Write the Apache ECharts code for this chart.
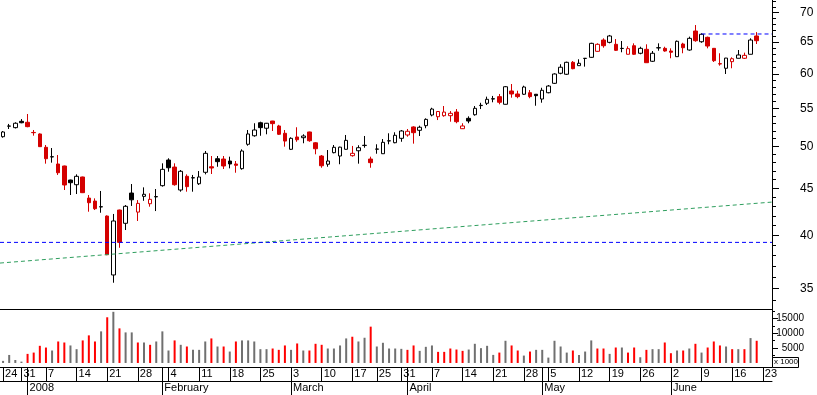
<!DOCTYPE html>
<html><head><meta charset="utf-8">
<script src="https://cdn.jsdelivr.net/npm/echarts@6/dist/echarts.min.js"></script>
<style>html,body{margin:0;padding:0;background:#fff;}#c{width:817px;height:395px;}</style>
</head><body><div id="c"></div>
<script>
// ---- trading days (last two are empty future slots) ----
const dates = [
'2007-12-24','2007-12-27','2007-12-28','2007-12-31',
'2008-01-02','2008-01-03','2008-01-04','2008-01-07','2008-01-08','2008-01-09','2008-01-10','2008-01-11',
'2008-01-14','2008-01-15','2008-01-16','2008-01-17','2008-01-18','2008-01-21','2008-01-22','2008-01-23',
'2008-01-24','2008-01-25','2008-01-28','2008-01-29','2008-01-30','2008-01-31',
'2008-02-01','2008-02-04','2008-02-05','2008-02-06','2008-02-07','2008-02-08','2008-02-11','2008-02-12',
'2008-02-13','2008-02-14','2008-02-15','2008-02-18','2008-02-19','2008-02-20','2008-02-21','2008-02-22',
'2008-02-25','2008-02-26','2008-02-27','2008-02-28','2008-02-29',
'2008-03-03','2008-03-04','2008-03-05','2008-03-06','2008-03-07','2008-03-10','2008-03-11','2008-03-12',
'2008-03-13','2008-03-14','2008-03-17','2008-03-18','2008-03-19','2008-03-20','2008-03-25','2008-03-26',
'2008-03-27','2008-03-28','2008-03-31',
'2008-04-01','2008-04-02','2008-04-03','2008-04-04','2008-04-07','2008-04-08','2008-04-09','2008-04-10',
'2008-04-11','2008-04-14','2008-04-15','2008-04-16','2008-04-17','2008-04-18','2008-04-21','2008-04-22',
'2008-04-23','2008-04-24','2008-04-25','2008-04-28','2008-04-29','2008-04-30',
'2008-05-02','2008-05-05','2008-05-06','2008-05-07','2008-05-08','2008-05-09','2008-05-12','2008-05-13',
'2008-05-14','2008-05-15','2008-05-16','2008-05-19','2008-05-20','2008-05-21','2008-05-22','2008-05-23',
'2008-05-26','2008-05-27','2008-05-28','2008-05-29','2008-05-30',
'2008-06-02','2008-06-03','2008-06-04','2008-06-05','2008-06-06','2008-06-09','2008-06-10','2008-06-11',
'2008-06-12','2008-06-13','2008-06-16','2008-06-17','2008-06-18','2008-06-19','2008-06-20',
'2008-06-23','2008-06-24'
];
const open = [51.25,52.62,52.43,53.27,53.14,51.80,51.60,49.90,48.70,47.85,47.61,45.96,45.42,46.31,43.92,43.59,42.95,41.98,36.20,42.62,
41.22,44.48,42.40,44.11,43.30,44.05,45.31,48.33,47.48,44.82,46.39,46.20,45.53,46.86,47.52,48.49,48.45,48.21,47.85,47.29,
50.28,51.37,53.08,52.35,53.31,52.65,51.69,49.65,51.21,51.12,51.86,50.47,48.82,47.82,49.23,48.82,49.65,48.86,49.47,50.12,
48.45,49.66,49.10,50.70,50.48,51.04,51.47,52.52,52.08,52.69,54.12,53.89,54.03,54.03,54.53,52.29,53.67,54.16,55.42,55.74,
56.38,56.68,55.60,57.49,57.06,57.02,57.24,57.02,56.34,57.24,58.61,60.11,59.96,61.79,61.27,62.39,62.57,63.52,65.35,64.97,
64.65,63.97,63.05,64.42,63.21,63.84,61.95,64.07,64.00,63.57,62.67,64.70,63.73,66.85,65.07,65.80,64.00,61.58,60.87,61.89,
62.42,62.42,63.05,66.02];
const close = [51.86,52.65,53.01,53.08,52.56,51.77,49.98,48.49,48.74,46.81,45.39,45.65,46.39,44.52,43.41,42.76,42.98,38.09,41.46,39.29,
43.02,43.73,43.34,44.34,43.78,44.09,47.21,47.40,45.42,46.98,45.20,46.23,46.31,49.15,47.37,48.13,47.61,47.85,47.69,49.44,
51.60,52.12,52.43,53.01,52.96,51.56,50.69,51.04,50.86,51.34,50.73,49.72,47.64,48.21,49.90,49.92,50.78,49.15,49.85,50.16,
48.01,49.69,50.53,50.73,51.43,51.99,51.95,51.77,52.48,53.53,54.94,54.60,54.52,54.35,53.22,52.65,53.31,55.04,55.46,56.30,
56.34,55.88,58.11,57.06,56.68,58.07,56.68,56.82,57.59,58.21,60.00,61.03,61.79,60.81,61.64,62.42,64.81,64.65,64.42,66.02,
63.68,64.00,63.95,63.05,64.00,61.73,63.21,64.10,63.57,63.37,65.14,64.10,65.63,65.24,66.30,64.37,62.04,61.53,62.45,62.35,
62.94,62.88,65.35,65.24];
const low = [51.12,52.25,52.32,53.01,52.48,51.38,49.95,47.89,48.01,46.55,44.82,44.26,44.37,44.48,42.44,42.62,42.33,38.05,35.50,38.76,
40.53,43.06,41.46,43.62,42.98,42.51,45.20,46.93,45.31,44.63,44.63,44.63,45.39,46.62,46.66,47.52,47.25,47.33,46.81,47.17,
50.10,51.25,51.37,51.56,51.99,51.47,49.98,49.56,50.60,50.41,50.60,49.03,47.40,47.52,49.15,47.82,49.62,48.74,47.89,49.85,
47.40,49.10,49.08,50.28,50.41,50.60,51.25,50.36,51.34,52.35,53.94,53.44,53.89,53.22,53.01,52.25,53.01,54.03,54.94,55.50,
55.88,55.60,55.57,56.53,56.45,56.92,56.45,55.40,55.82,57.16,58.51,59.96,59.85,60.72,61.25,61.12,62.51,63.46,64.10,64.81,
63.57,63.37,63.04,62.94,63.05,61.72,61.84,63.62,63.46,62.42,62.65,63.21,63.62,65.07,64.90,64.00,61.84,61.27,60.00,60.87,
62.40,62.31,63.04,64.70];
const high = [51.99,52.92,53.14,53.57,54.26,52.12,51.68,50.19,49.81,48.94,47.65,46.00,46.62,46.35,44.26,43.89,44.71,42.05,42.20,42.66,
43.16,45.50,43.70,45.12,44.45,44.93,47.93,48.54,47.93,47.13,46.62,46.55,47.01,49.44,48.82,48.82,48.82,48.74,48.21,49.65,
52.12,53.01,53.22,53.05,53.33,52.80,52.12,51.17,52.48,51.56,51.90,50.55,48.94,49.56,50.19,49.98,51.47,50.07,50.16,51.34,
48.74,50.28,50.95,51.69,51.82,52.12,52.25,52.61,52.69,53.67,55.12,54.66,55.36,54.66,54.94,53.01,53.94,55.36,55.81,56.68,
56.78,57.06,58.21,58.51,57.53,58.26,57.63,57.04,57.96,58.36,60.11,61.49,61.89,61.99,62.26,62.45,64.90,64.81,65.63,66.19,
65.51,65.19,64.33,64.81,64.26,64.65,63.57,64.81,64.26,64.00,65.27,64.90,65.91,67.86,66.47,65.91,64.05,63.21,62.48,62.57,
63.73,63.31,65.63,66.66];
const volume = [700,2700,1000,450,3060,3500,5780,5200,4200,7240,6900,5900,4650,7600,9300,7240,10650,15400,17240,11660,
10300,10300,6900,6900,6120,7240,10650,4200,7600,6120,5550,4420,4420,7240,8270,5550,5550,3850,7240,7600,
7600,7240,4650,4650,4870,4420,5900,4420,6570,4200,4200,6460,6120,4870,4870,5900,8270,8840,7240,8500,
12240,5550,6800,4870,4870,4760,4420,5900,4080,5440,5900,3740,3740,4870,4530,4080,4530,6460,4990,5780,
2720,3500,7480,5900,4200,2490,3850,4420,4420,1810,7480,5550,3500,4200,2720,3850,7600,4870,4870,3060,
5210,5210,3500,5210,1930,4420,4650,4650,6900,3290,4200,4200,4870,6460,3500,5210,7240,5900,5550,4650,
4650,4650,8390,7480];
const priceTicks = [35,40,45,50,55,60,65,70];
const priceMinorTicks = [33,34,35,36,37,38,39,40,41,42,43,44,45,46,47,48,49,50,51,52,53,54,55,56,57,58,59,60,61,62,63,64,65,66,67,68,69,70,71,72];
const priceRange = [33.23, 72.27];
const volumeTicks = [5000,10000,15000];
const volumeMinorTicks = [2500,7500,12500,17500];
const volumeRange = [-1360, 18190];
const supportLevel = 39.29;
const resistanceLevel = 66.35, resistanceStartIndex = 114;
const trendLine = [37.30, 43.48];   // value at left edge, value at right edge
const monthNames = ['January','February','March','April','May','June','July','August','September','October','November','December'];

const RED = '#d40000', BLACK = '#000000', VRED = '#ff0000', VGRAY = '#707070';
const FONT = 'Liberation Sans, Arial, sans-serif';
const ln = Math.log;
const N = dates.length;
const xmin = -0.5, xmax = N - 0.5;

function parts(d){ return d.split('-').map(Number); }
function dow(d){ const p = parts(d); return new Date(Date.UTC(p[0], p[1]-1, p[2])).getUTCDay(); }
function isWeekStart(i){ return i === 0 || dow(dates[i]) <= dow(dates[i-1]); }
function isMonthStart(i){ return i > 0 && parts(dates[i])[1] !== parts(dates[i-1])[1]; }

const candleData = open.map((o, i) => {
  const c = close[i];
  const prev = i > 0 ? close[i-1] : c;
  const col = c >= prev ? BLACK : RED;
  const fill = c > o ? '#ffffff' : col;
  return { value: [ln(o), ln(c), ln(low[i]), ln(high[i])],
    itemStyle: { color: fill, color0: fill, borderColor: col, borderColor0: col, borderWidth: 1 } };
});
const volData = volume.map((v, i) => {
  const prev = i > 0 ? close[i-1] : close[i];
  return { value: v, itemStyle: { color: close[i] >= prev ? VGRAY : VRED } };
});

const axisLineBlack = (show) => ({ show: show, onZero: false, lineStyle: { color: '#000', width: 1 } });

const chart = echarts.init(document.getElementById('c'), null, { renderer: 'canvas' });
chart.setOption({
  animation: false,
  backgroundColor: '#ffffff',
  grid: [
    { left: 0, top: 0, width: 772, height: 309 },
    { left: 0, top: 309, width: 772, height: 58 }
  ],
  xAxis: [
    { gridIndex: 0, type: 'category', data: dates, boundaryGap: true, position: 'bottom',
      axisLine: axisLineBlack(true), axisTick: { show: false }, axisLabel: { show: false }, splitLine: { show: false } },
    { gridIndex: 0, type: 'value', min: xmin, max: xmax, show: false, axisLine: { show: false, onZero: false } },
    { gridIndex: 1, type: 'category', data: dates, boundaryGap: true, position: 'bottom',
      axisLine: axisLineBlack(true),
      axisTick: { show: true, alignWithLabel: true, interval: (i) => isWeekStart(i), length: 14, lineStyle: { color: '#000', width: 1 } },
      axisLabel: { show: true, interval: (i) => isWeekStart(i), formatter: (v) => String(parts(v)[2]),
        align: 'left', verticalAlign: 'top', margin: 0, padding: [0,0,0,2], lineHeight: 14, fontSize: 11, fontFamily: FONT, color: '#000' } },
    { gridIndex: 1, type: 'category', data: dates, boundaryGap: true, position: 'bottom', offset: 0,
      axisLine: axisLineBlack(false),
      axisTick: { show: true, alignWithLabel: true, interval: (i) => isMonthStart(i), length: 28, lineStyle: { color: '#000', width: 1 } },
      axisLabel: { show: true, interval: (i) => isMonthStart(i), formatter: (v) => { const p = parts(v); return p[1] === 1 ? String(p[0]) : monthNames[p[1]-1]; },
        align: 'left', verticalAlign: 'top', margin: 14, padding: [0,0,0,2], lineHeight: 14, fontSize: 11, fontFamily: FONT, color: '#000' } },
    { gridIndex: 1, type: 'category', data: dates, boundaryGap: true, position: 'bottom', offset: 14,
      axisLine: axisLineBlack(true), axisTick: { show: false }, axisLabel: { show: false } }
  ],
  yAxis: [
    { gridIndex: 0, type: 'value', position: 'right', min: ln(priceRange[0]), max: ln(priceRange[1]),
      axisLine: axisLineBlack(true),
      axisTick: { show: true, inside: false, length: 7, customValues: priceTicks.map(ln), lineStyle: { color: '#000' } },
      axisLabel: { show: true, customValues: priceTicks.map(ln), formatter: (v) => String(Math.round(Math.exp(v))),
        margin: 28, fontSize: 12, fontFamily: FONT, color: '#000' },
      splitLine: { show: false } },
    { gridIndex: 0, type: 'value', position: 'right', min: ln(priceRange[0]), max: ln(priceRange[1]),
      axisLine: axisLineBlack(false),
      axisTick: { show: true, length: 4, customValues: priceMinorTicks.map(ln), lineStyle: { color: '#000' } },
      axisLabel: { show: false }, splitLine: { show: false } },
    { gridIndex: 1, type: 'value', position: 'right', min: volumeRange[0], max: volumeRange[1],
      axisLine: axisLineBlack(true),
      axisTick: { show: true, length: 6, customValues: volumeTicks, lineStyle: { color: '#000' } },
      axisLabel: { show: true, customValues: volumeTicks, formatter: (v) => String(v), align: 'right', margin: 32, fontSize: 10, fontFamily: FONT, color: '#000' },
      splitLine: { show: false } },
    { gridIndex: 1, type: 'value', position: 'right', min: volumeRange[0], max: volumeRange[1],
      axisLine: axisLineBlack(false),
      axisTick: { show: true, length: 3, customValues: volumeMinorTicks, lineStyle: { color: '#000' } },
      axisLabel: { show: false }, splitLine: { show: false } }
  ],
  series: [
    { type: 'line', xAxisIndex: 1, yAxisIndex: 0, symbol: 'none', silent: true,
      data: [[xmin, ln(trendLine[0])], [xmax, ln(trendLine[1])]],
      lineStyle: { color: '#2f9e5e', width: 1, type: [4, 3] } },
    { type: 'line', xAxisIndex: 1, yAxisIndex: 0, symbol: 'none', silent: true,
      data: [[xmin, ln(supportLevel)], [xmax, ln(supportLevel)]],
      lineStyle: { color: '#0000ff', width: 1, type: [4, 3] } },
    { type: 'line', xAxisIndex: 1, yAxisIndex: 0, symbol: 'none', silent: true,
      data: [[resistanceStartIndex, ln(resistanceLevel)], [xmax, ln(resistanceLevel)]],
      lineStyle: { color: '#0000ff', width: 1, type: [4, 3] } },
    { type: 'candlestick', xAxisIndex: 0, yAxisIndex: 0, barWidth: 4, data: candleData, silent: true },
    { type: 'bar', xAxisIndex: 2, yAxisIndex: 2, barWidth: 2, data: volData, silent: true }
  ],
  graphic: [
    { type: 'rect', left: 772, top: 357, shape: { width: 26, height: 10 }, style: { fill: '#fff', stroke: '#000', lineWidth: 1 }, z: 100 },
    { type: 'text', left: 774, top: 358, style: { text: 'x 1000', font: '8px ' + FONT, fill: '#000' }, z: 101 }
  ]
});
</script></body></html>
